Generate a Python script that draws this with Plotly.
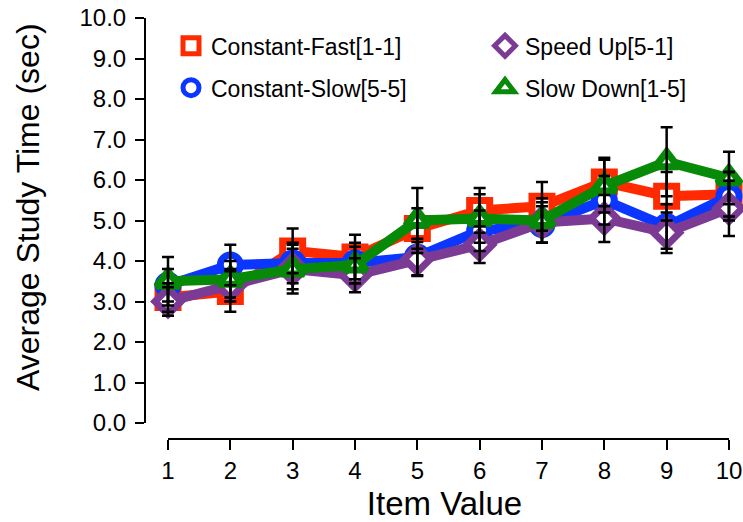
import plotly.graph_objects as go

# Item values on the x axis
item_value = [1, 2, 3, 4, 5, 6, 7, 8, 9, 10]

# Mean study time (sec) per condition
const_fast = [3.10, 3.25, 4.25, 4.10, 4.80, 5.25, 5.35, 5.95, 5.60, 5.65]
speed_up = [3.00, 3.40, 3.80, 3.65, 4.05, 4.40, 4.95, 5.05, 4.70, 5.30]
const_slow = [3.40, 3.90, 3.95, 3.95, 4.10, 4.75, 4.90, 5.50, 4.85, 5.60]
slow_down = [3.50, 3.55, 3.80, 3.90, 5.00, 5.05, 5.00, 5.85, 6.45, 6.05]

# Standard errors per condition
const_fast_se = [0.35, 0.50, 0.55, 0.55, 0.50, 0.55, 0.60, 0.60, 0.60, 0.55]
speed_up_se = [0.35, 0.40, 0.60, 0.42, 0.42, 0.45, 0.50, 0.58, 0.50, 0.68]
const_slow_se = [0.40, 0.50, 0.50, 0.50, 0.45, 0.50, 0.45, 0.60, 0.55, 0.60]
slow_down_se = [0.60, 0.45, 0.50, 0.45, 0.80, 0.60, 0.55, 0.65, 0.85, 0.65]

y_ticks = [0, 1, 2, 3, 4, 5, 6, 7, 8, 9, 10]

FONT = "Liberation Sans, Arial, Helvetica, sans-serif"

series = [
    # name, values, se, colour, symbol, legend
    ("Constant-Fast[1-1]", const_fast, const_fast_se, "#ff2a00", "square", "legend"),
    ("Constant-Slow[5-5]", const_slow, const_slow_se, "#0a36ff", "circle", "legend"),
    ("Speed Up[5-1]", speed_up, speed_up_se, "#7b3a93", "diamond", "legend2"),
    ("Slow Down[1-5]", slow_down, slow_down_se, "#078a07", "triangle-up", "legend2"),
]

fig = go.Figure()

# Lines with markers
for name, vals, se, col, sym, lg in series:
    fig.add_trace(go.Scatter(
        x=item_value, y=vals, mode="lines+markers", showlegend=False,
        line=dict(color=col, width=10),
        marker=dict(symbol=sym, size=20, color="white",
                    line=dict(color=col, width=7)),
        cliponaxis=False,
    ))

# Error bars drawn above all lines
for name, vals, se, col, sym, lg in series:
    fig.add_trace(go.Scatter(
        x=item_value, y=vals, mode="markers", showlegend=False,
        marker=dict(size=0.1, color="rgba(0,0,0,0)"),
        error_y=dict(type="data", array=se, visible=True,
                     color="black", thickness=2.5, width=6),
        cliponaxis=False,
    ))

# Legend entries (marker only)
for i, (name, vals, se, col, sym, lg) in enumerate(series):
    fig.add_trace(go.Scatter(
        x=[None], y=[None], mode="markers", name=name, legend=lg,
        legendgroup=name,
        marker=dict(symbol=sym, size=16, color="white",
                    line=dict(color=col, width=5)),
    ))

W, H = 743, 522
ML, MR, MT, MB = 146, 0, 18, 83
plot_h = H - MT - MB
y_dom0 = (439 - 423) / plot_h

legend_style = dict(
    font=dict(family=FONT, size=23, color="black"),
    bgcolor="rgba(0,0,0,0)", borderwidth=0,
    orientation="v", traceorder="grouped", tracegroupgap=9,
    xanchor="left", yanchor="top", y=0.985,
)

fig.update_layout(
    width=W, height=H,
    margin=dict(l=ML, r=MR, t=MT, b=MB),
    plot_bgcolor="white", paper_bgcolor="white",
    font=dict(family=FONT, color="black"),
    xaxis=dict(
        range=[0.647, 10.225], anchor="free", position=0,
        tickvals=item_value, ticktext=[str(v) for v in item_value],
        ticks="outside", ticklen=10, tickwidth=2, tickcolor="black",
        showline=False, showgrid=False, zeroline=False,
        tickfont=dict(family=FONT, size=24, color="black"),
        title=dict(text="Item Value", font=dict(family=FONT, size=33, color="black"),
                   standoff=10),
    ),
    yaxis=dict(
        range=[0, 10], domain=[y_dom0, 1],
        tickvals=y_ticks, ticktext=[f"{v:.1f}" for v in y_ticks],
        ticks="outside", ticklen=9, tickwidth=2, tickcolor="black",
        showline=True, linewidth=2, linecolor="black",
        showgrid=False, zeroline=False,
        tickfont=dict(family=FONT, size=24, color="black"),
        ticklabelstandoff=4,
    ),
    legend=dict(legend_style, x=(171 - ML) / (W - ML)),
    legend2=dict(legend_style, x=(485 - ML) / (W - ML)),
    shapes=[dict(type="line", xref="x", yref="paper", x0=item_value[0],
                 x1=item_value[-1], y0=0, y1=0,
                 line=dict(color="black", width=2))],
    annotations=[dict(
        text="Average Study Time (sec)", textangle=-90,
        xref="paper", yref="paper",
        x=(28 - ML) / (W - ML), y=1 - (207 - MT) / plot_h,
        xanchor="center", yanchor="middle", showarrow=False,
        font=dict(family=FONT, size=32, color="black"),
    )],
)

fig.write_html("out.html")
